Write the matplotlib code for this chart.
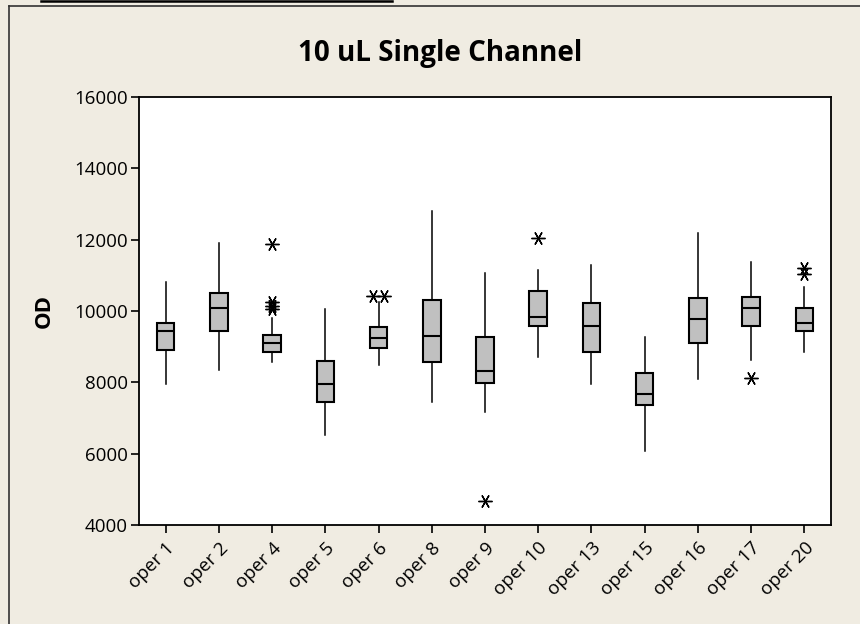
import matplotlib
matplotlib.use("Agg")
import matplotlib.pyplot as plt
from matplotlib.lines import Line2D
import numpy as np

categories = ['oper 1', 'oper 2', 'oper 4', 'oper 5', 'oper 6', 'oper 8', 'oper 9',
              'oper 10', 'oper 13', 'oper 15', 'oper 16', 'oper 17', 'oper 20']
whislo = [7950, 8350, 8580, 6530, 8490, 7460, 7160, 8710, 7950, 6080, 8080, 8620, 8850]
q1 = [8900, 9440, 8850, 7450, 8950, 8580, 7990, 9580, 8850, 7360, 9090, 9580, 9450]
med = [9450, 10090, 9100, 7960, 9240, 9310, 8310, 9820, 9590, 7680, 9780, 10090, 9670]
q3 = [9670, 10500, 9320, 8590, 9540, 10320, 9270, 10550, 10230, 8270, 10370, 10400, 10090]
whishi = [10820, 11920, 9790, 10050, 10260, 12800, 11060, 11140, 11280, 9270, 12190, 11370, 10680]
fliers = [[], [], [11870, 10250, 10150, 10050], [], [10430, 10430], [], [4680], [12040],
          [], [], [], [8110], [11200, 11050]]
yticks = [4000, 6000, 8000, 10000, 12000, 14000, 16000]

BG = '#f0ece2'
FONT = 'Open Sans'

fig = plt.figure(figsize=(8.6, 6.24), dpi=100, facecolor=BG)
ax = fig.add_axes([139/860, 1-525/624, (831-139)/860, (525-97)/624])
ax.set_facecolor('white')

stats = []
for i in range(len(categories)):
    stats.append(dict(med=med[i], q1=q1[i], q3=q3[i], whislo=whislo[i],
                      whishi=whishi[i], fliers=[], label=categories[i]))
positions = np.arange(1, len(categories) + 1)
ax.bxp(stats, positions=positions, widths=0.33, patch_artist=True, showfliers=False,
       showcaps=False,
       boxprops=dict(facecolor='#c0c0c0', edgecolor='black', linewidth=1.5),
       medianprops=dict(color='black', linewidth=1.5),
       whiskerprops=dict(color='black', linewidth=1.1))

# outliers (identical values drawn side by side)
for pos, fl in zip(positions, fliers):
    vals, counts = np.unique(fl, return_counts=True) if fl else ([], [])
    for v, c in zip(vals, counts):
        offs = (np.arange(c) - (c - 1) / 2) * 0.2
        ax.plot(pos + offs, [v] * c, linestyle='none', marker=(6, 2, 90),
                markersize=10, markeredgewidth=1.0, color='black')

ax.set_xlim(0.5, len(categories) + 0.5)
ax.set_ylim(4000, 16000)
ax.set_yticks(yticks)
ax.set_yticklabels([str(t) for t in yticks], fontfamily=FONT, fontsize=13.5)
ax.set_xticks(positions)
ax.set_xticklabels(categories, rotation=45, ha='right', va='top',
                   rotation_mode='anchor', fontfamily=FONT, fontsize=13.5)
ax.tick_params(axis='both', direction='out', length=6, width=1.2, color='black')
ax.tick_params(axis='y', pad=2)
ax.tick_params(axis='x', pad=4)
for s in ax.spines.values():
    s.set_linewidth(1.3)
    s.set_color('black')

ax.set_ylabel('OD', fontfamily=FONT, fontsize=16, fontweight='bold', labelpad=14)
fig.text(440/860, 1-53/624, '10 uL Single Channel', ha='center', va='center',
         fontfamily=FONT, fontsize=20, fontweight='bold')

# frame lines of the surrounding page
fig.add_artist(Line2D([9/860, 1], [1-6/624, 1-6/624], transform=fig.transFigure,
                      color='#333333', linewidth=1.2))
fig.add_artist(Line2D([9/860, 9/860], [0, 1-6/624], transform=fig.transFigure,
                      color='#333333', linewidth=1.2))
fig.add_artist(Line2D([41/860, 392/860], [1-1/624, 1-1/624], transform=fig.transFigure,
                      color='black', linewidth=1.8))

fig.savefig('out.png', dpi=100, facecolor=BG)
